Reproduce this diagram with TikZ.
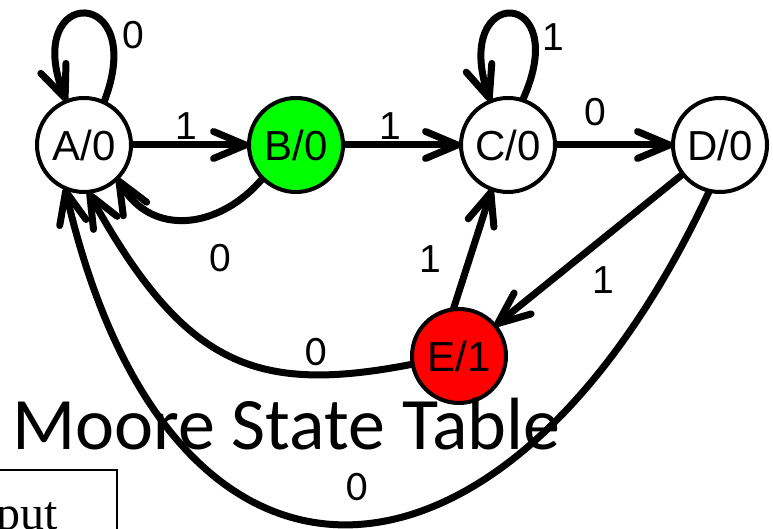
\documentclass[tikz,border=0pt]{standalone}
\usepackage{fontspec}
\setmainfont{Liberation Sans}
\newfontfamily\carlito{Carlito}
\newfontfamily\serifface{Liberation Serif}
\usepackage{tikz}
\usetikzlibrary{arrows.meta, positioning}
\tikzset{
    state_white/.style={circle, draw, line width=4pt, fill=white, minimum size=94pt, inner sep=0pt, outer sep=0pt, font=\fontsize{42}{48}\selectfont},
    state_green/.style={state_white, fill=green},
    state_red/.style={state_white, fill=red},
    arrow/.style={-{Straight Barb[length=32pt,width=27pt,round]}, line width=7pt},
    lbl_arial/.style={inner sep=0pt, font=\fontsize{39}{44}\selectfont},
    lbl_calibri/.style={inner sep=0pt, font=\carlito\fontsize{42}{48}\selectfont}
}

\begin{document}
\begin{tikzpicture}[x=1pt, y=1pt, node distance=117pt and 118pt]
    \useasboundingbox (0,0) rectangle (773,529);
    \clip (0,0) rectangle (773,529);

    \node (A) [state_white] at (84,384) {A/0};
    \node (B) [state_green, right=of A] {B/0};
    \node (C) [state_white, right=of B] {C/0};
    \node (D) [state_white, right=of C] {D/0};
    \node (E) [state_red, below=of C, xshift=-49pt] {E/1};

    % self loops
    \draw [arrow] (A.65) .. controls +(46,118) and +(-46,117) .. (A.112) node[lbl_arial] (l_aa) at (133,494) {0};
    \draw [arrow] (C.72) .. controls +(52,114) and +(-40,118) .. (C.112) node[lbl_arial] (l_cc) at (553,492) {1};

    % top row
    \draw [arrow] (A) -- node[lbl_arial, above=2pt, pos=0.47] (l_ab) {1} (B);
    \draw [arrow] (B) -- node[lbl_arial, above=2pt, pos=0.40] (l_bc) {1} (C);
    \draw [arrow] (C) -- node[lbl_arial, above=16pt, pos=0.34] (l_cd) {0} (D);
    \draw [arrow] (B.225) .. controls +(230:65) and +(-60:70) .. (A.-45) node[lbl_arial] (l_ba) at (220,271) {0};

    % around E
    \draw [arrow] (E.97) -- node[lbl_arial, left=25pt, pos=0.42] (l_ec) {1} (C.250);
    \draw [arrow] (D.218) -- node[lbl_arial, right=38pt, pos=0.70] (l_de) {1} (E.40);
    \draw [arrow] (E.190) .. controls +(191:160) and +(-61:200) .. (A.-85) node[lbl_calibri] (l_ea) at (316,177) {0};
    \draw [arrow] (D.257) to[out=245, in=-77, looseness=1.88] (A.246) node[lbl_calibri] (l_da) at (357,42) {0};

    % table heading
    \node (title) [anchor=base west, inner sep=0pt, font=\carlito\fontsize{74}{82}\selectfont] at (12,79) {Moore State Table};
    \draw [line width=2pt] (-10,-10) rectangle (117,59);
    \node (outhead) [anchor=base east, inner sep=0pt, font=\serifface\fontsize{48}{54}\selectfont] at (58,-1) {Output};
\end{tikzpicture}
\end{document}
